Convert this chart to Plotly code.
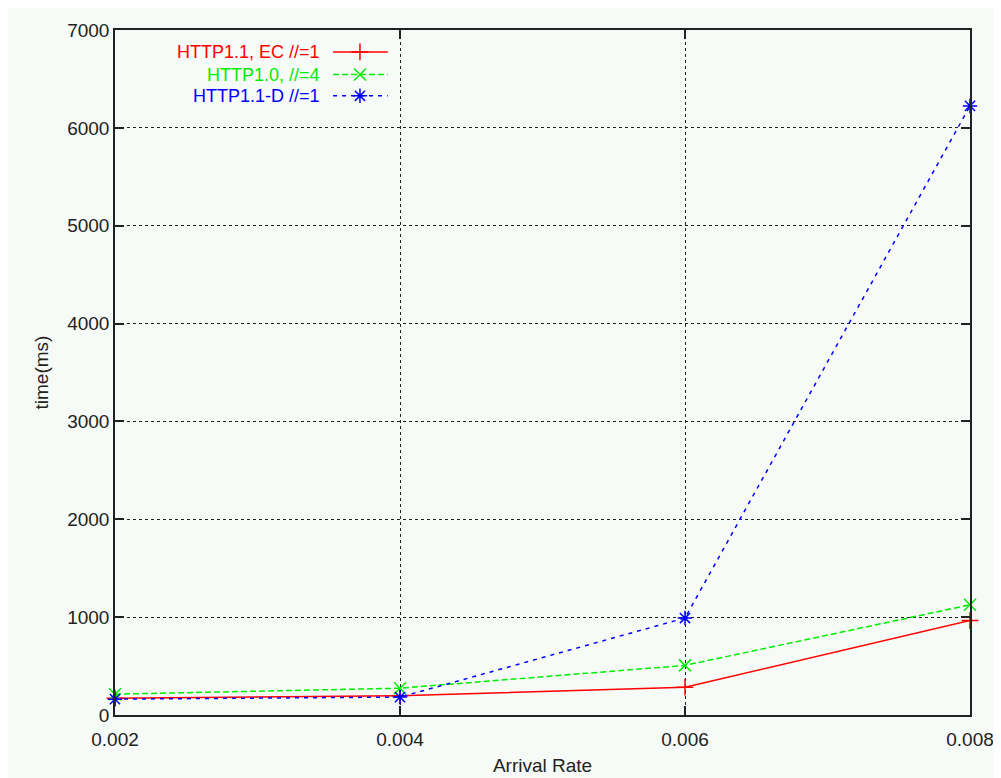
import plotly.graph_objects as go

arrival_rate = [0.002, 0.004, 0.006, 0.008]
x_tick_labels = ["0.002", "0.004", "0.006", "0.008"]
y_ticks = [0, 1000, 2000, 3000, 4000, 5000, 6000, 7000]

series_names = ["HTTP1.1, EC //=1", "HTTP1.0, //=4", "HTTP1.1-D //=1"]
http11_ec = [172, 196, 284, 965]
http10 = [213, 274, 507, 1126]
http11_d = [162, 183, 991, 6224]

FONT = "Liberation Sans, Arial, Helvetica, sans-serif"
BG = "#f6fbf7"
INK = "#222222"

styles = [
    dict(color="#ff0000", dash="solid", symbol="cross-thin"),
    dict(color="#00ee00", dash="6px,3px", symbol="x-thin"),
    dict(color="#0000ff", dash="4px,5px", symbol="asterisk-open"),
]
data = [http11_ec, http10, http11_d]

fig = go.Figure()
for name, vals, st in zip(series_names, data, styles):
    fig.add_trace(go.Scatter(
        x=arrival_rate, y=vals, name=name, mode="lines+markers",
        line=dict(color=st["color"], width=1.5, dash=st["dash"]),
        marker=dict(symbol=st["symbol"], size=12, color=st["color"],
                    line=dict(color=st["color"], width=1.5)),
        showlegend=False, cliponaxis=False,
    ))

# gnuplot-style key: right-aligned coloured text, sample line + marker on the right
legend_rows = [0.968, 0.935, 0.904]
for name, st, ry in zip(series_names, styles, legend_rows):
    fig.add_trace(go.Scatter(
        x=[0.255, 0.2865, 0.319], y=[ry, ry, ry], xaxis="x2", yaxis="y2",
        mode="lines", line=dict(color=st["color"], width=1.5, dash=st["dash"]),
        showlegend=False, hoverinfo="skip",
    ))
    fig.add_trace(go.Scatter(
        x=[0.2865], y=[ry], xaxis="x2", yaxis="y2", mode="markers",
        marker=dict(symbol=st["symbol"], size=12, color=st["color"],
                    line=dict(color=st["color"], width=1.5)),
        showlegend=False, hoverinfo="skip",
    ))
    fig.add_annotation(
        x=0.241, y=ry, xref="x2", yref="y2", text=name, showarrow=False,
        xanchor="right", yanchor="middle", borderpad=0,
        font=dict(family=FONT, size=18, color=st["color"]),
    )

axis_common = dict(
    showline=True, linecolor=INK, linewidth=1.5, mirror="ticks",
    ticks="inside", ticklen=9, tickcolor=INK, tickwidth=1.5,
    showgrid=True, gridcolor=INK, gridwidth=1, griddash="dot",
    zeroline=False,
    tickfont=dict(family=FONT, size=19, color=INK),
)

fig.update_layout(
    width=1001, height=778,
    margin=dict(l=107, r=39, t=17, b=71),
    paper_bgcolor=BG, plot_bgcolor=BG,
    xaxis=dict(range=[0.002, 0.008], tickvals=arrival_rate, ticktext=x_tick_labels,
               ticklabelstandoff=6,
               title=dict(text="Arrival Rate", standoff=10,
                          font=dict(family=FONT, size=19, color=INK)),
               **axis_common),
    yaxis=dict(range=[0, 7000], tickvals=y_ticks,
               ticktext=[str(v) for v in y_ticks],
               title=dict(text="time(ms)", standoff=14,
                          font=dict(family=FONT, size=19, color=INK)),
               **axis_common),
    xaxis2=dict(range=[0, 1], overlaying="x", visible=False, anchor="y2"),
    yaxis2=dict(range=[0, 1], overlaying="y", visible=False, anchor="x2"),
    showlegend=False,
)

fig.write_html("out.html")
